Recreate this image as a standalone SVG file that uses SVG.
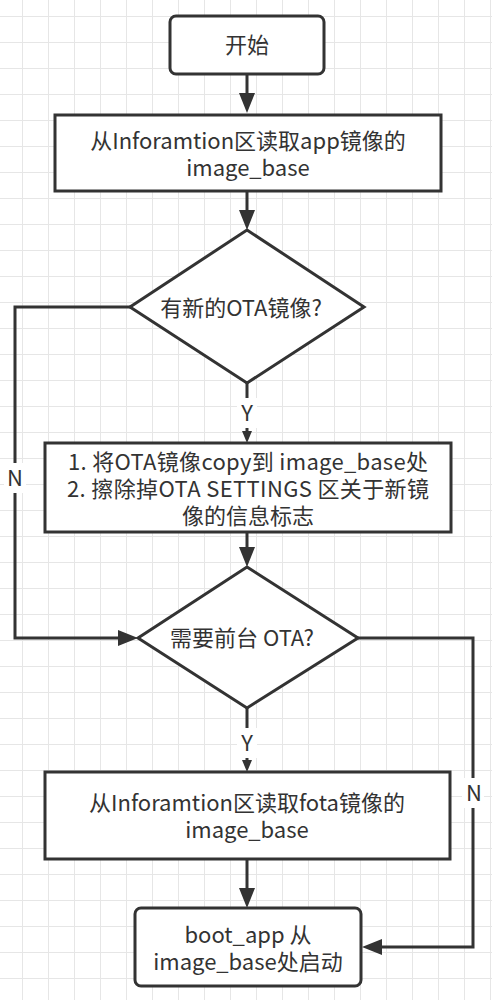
<svg xmlns="http://www.w3.org/2000/svg" width="492" height="1000" viewBox="0 0 492 1000">
  <defs>
    <pattern id="grid" patternUnits="userSpaceOnUse" x="22" y="16" width="26" height="26">
      <path d="M0.5,0 V26 M0,0.5 H26" fill="none" stroke="#e6e6e6" stroke-width="1"/>
    </pattern>
    <marker id="arr" markerUnits="userSpaceOnUse" viewBox="0 0 20 16" markerWidth="20" markerHeight="16" refX="0" refY="8" orient="auto">
      <path d="M0,0 L20,8 L0,16 z" fill="#333"/>
    </marker>
    <marker id="arrs" markerUnits="userSpaceOnUse" viewBox="0 0 12 10" markerWidth="12" markerHeight="10" refX="0" refY="5" orient="auto">
      <path d="M0,0 L12,5 L0,10 z" fill="#333"/>
    </marker>
    <style>
      .box { fill: #fff; stroke: #333; stroke-width: 3; }
      .edge { fill: none; stroke: #333; stroke-width: 3; }
      .t { font-family: "Microsoft YaHei", "Noto Sans CJK SC", "Noto Sans", sans-serif; font-size: 22px; fill: #333; text-anchor: middle; }
      .lbg { fill: #fff; }
    </style>
  </defs>
  <rect width="492" height="1000" fill="#fff"/>
  <rect width="492" height="1000" fill="url(#grid)"/>

  <g id="connectors">
    <path class="edge" d="M247,74 V93" marker-end="url(#arr)"/>
    <path class="edge" d="M247,191 V210" marker-end="url(#arr)"/>
    <path class="edge" d="M247,383 V431" marker-end="url(#arrs)"/>
    <path class="edge" d="M130,307 H15 V638 H118" marker-end="url(#arr)"/>
    <path class="edge" d="M247,532 V547" marker-end="url(#arr)"/>
    <path class="edge" d="M247,708 V760" marker-end="url(#arrs)"/>
    <path class="edge" d="M358,638 H473 V947 H382" marker-end="url(#arr)"/>
    <path class="edge" d="M247,859 V888" marker-end="url(#arr)"/>
    <g id="edge-labels">
      <rect class="lbg" x="237" y="398" width="20" height="30"/>
      <text class="t" x="247" y="421">Y</text>
      <rect class="lbg" x="4" y="463" width="22" height="30"/>
      <text class="t" x="15" y="486">N</text>
      <rect class="lbg" x="237" y="728" width="20" height="30"/>
      <text class="t" x="247" y="751">Y</text>
      <rect class="lbg" x="462" y="778" width="22" height="30"/>
      <text class="t" x="474" y="801">N</text>
    </g>
  </g>

  <g id="start">
    <rect class="box" x="170" y="16" width="154" height="58" rx="6"/>
    <text class="t" x="247" y="53">开始</text>
  </g>
  <g id="read-app">
    <rect class="box" x="55" y="115" width="386" height="76"/>
    <text class="t" x="248" y="149">从Inforamtion区读取app镜像的</text>
    <text class="t" x="248" y="176">image_base</text>
  </g>
  <g id="new-ota">
    <polygon class="box" points="247,230 364,307 247,383 130,307"/>
    <text class="t" x="241" y="316">有新的OTA镜像?</text>
  </g>
  <g id="copy-ota">
    <rect class="box" x="45" y="443" width="406" height="89"/>
    <text class="t" x="248" y="470" textLength="360" lengthAdjust="spacing">1. 将OTA镜像copy到 image_base处</text>
    <text class="t" x="248" y="497" textLength="362" lengthAdjust="spacing">2. 擦除掉OTA SETTINGS 区关于新镜</text>
    <text class="t" x="248" y="524">像的信息标志</text>
  </g>
  <g id="fg-ota">
    <polygon class="box" points="247,567 358,638 247,708 138,638"/>
    <text class="t" x="242" y="646">需要前台 OTA?</text>
  </g>
  <g id="read-fota">
    <rect class="box" x="45" y="772" width="405" height="87"/>
    <text class="t" x="247" y="811">从Inforamtion区读取fota镜像的</text>
    <text class="t" x="247" y="838">image_base</text>
  </g>
  <g id="boot">
    <rect class="box" x="135" y="908" width="226" height="78" rx="6"/>
    <text class="t" x="248" y="943">boot_app 从</text>
    <text class="t" x="248" y="970">image_base处启动</text>
  </g>
</svg>
